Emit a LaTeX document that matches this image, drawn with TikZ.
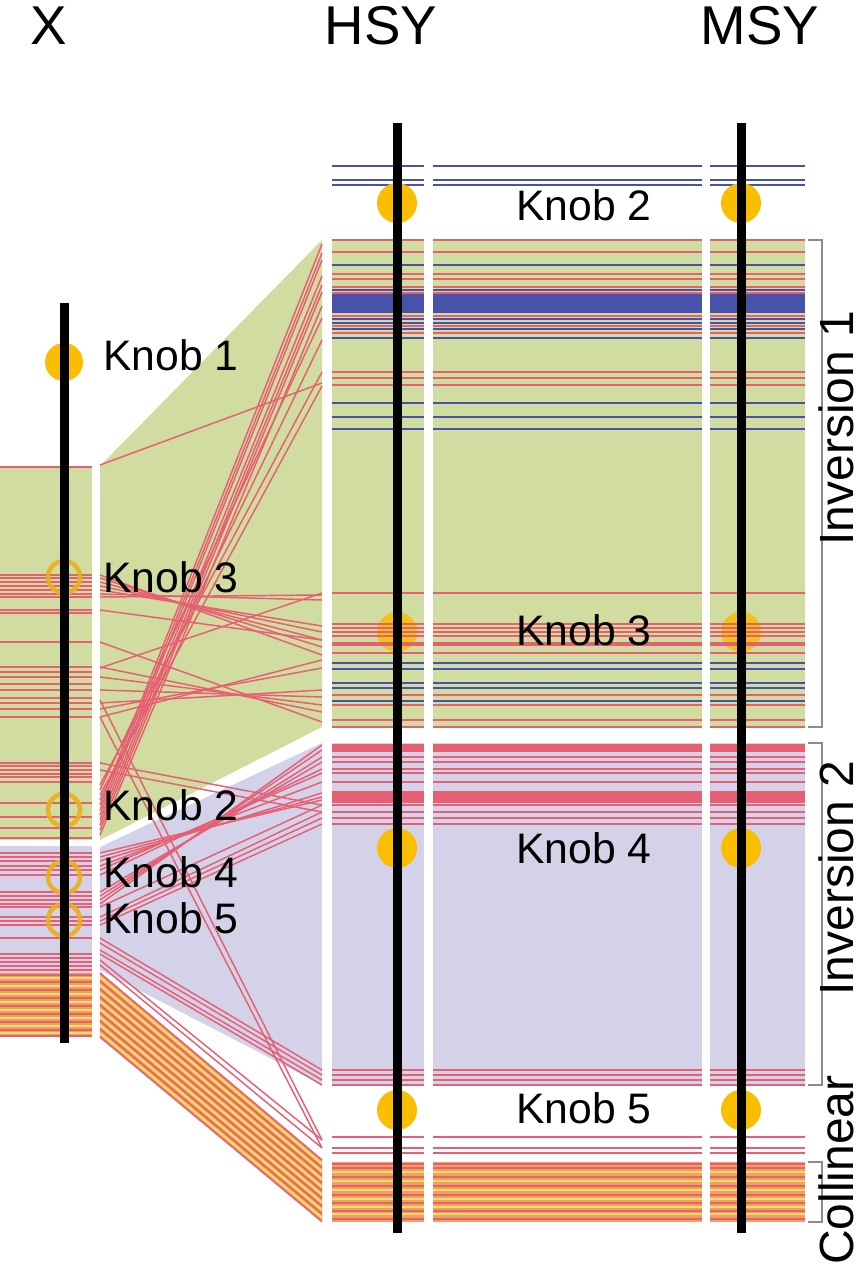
\documentclass[tikz,border=0pt]{standalone}
\usepackage{fontspec}
\setmainfont{Liberation Sans}
\definecolor{grn}{RGB}{208,220,160}
\definecolor{lav}{RGB}{212,210,232}
\definecolor{rl}{RGB}{230,95,115}
\definecolor{bl}{RGB}{72,82,170}
\definecolor{org}{RGB}{240,160,95}
\definecolor{ylw}{RGB}{242,224,100}
\definecolor{gold}{RGB}{250,190,0}
\definecolor{ringc}{RGB}{235,175,25}
\definecolor{brk}{RGB}{140,140,140}
\newcommand{\rowstripe}[3]{\foreach \xa/\xb in {332/424,433/702,710/805}{\draw[#2, line width=#3] (\xa,#1) -- (\xb,#1);}}
\newcommand{\rowfill}[3]{\foreach \xa/\xb in {332/424,433/702,710/805}{\fill[#1] (\xa,#2) rectangle (\xb,#3);}}
\newcommand{\xstripe}[3]{\draw[#2, line width=#3] (0,#1) -- (92,#1);}
\tikzset{
  linkline/.style={draw=rl, line width=1.1pt},
  knobfill/.style={fill=gold, draw=none},
  knobring/.style={draw=ringc, line width=3.4pt, fill=none, opacity=0.9},
  chrom/.style={line width=6.75pt, draw=black},
  lbl/.style={font=\fontsize{32}{32}\selectfont, anchor=west, inner sep=0pt},
  ttl/.style={font=\fontsize{41}{41}\selectfont, inner sep=0pt, anchor=base},
  vlbl/.style={font=\fontsize{36}{36}\selectfont, rotate=90, inner sep=0pt, anchor=base},
  bracket/.style={draw=brk, line width=1.5pt},
}
\begin{document}
\begin{tikzpicture}[x=0.75pt,y=-0.75pt]
\useasboundingbox (0,0) rectangle (861,1280);

% ---- link regions between X and HSY
\fill[grn] (100,466) -- (322,240) -- (322,727) -- (100,840) -- cycle;
\fill[lav] (100,847) -- (322,743) -- (322,1085) -- (100,970) -- cycle;
\fill[org] (100,973) -- (322,1160) -- (322,1222) -- (100,1037) -- cycle;
\foreach \i in {0,...,16}{
  \pgfmathsetmacro{\ly}{973+\i*4}
  \pgfmathsetmacro{\ry}{1160+\i*3.85}
  \pgfmathtruncatemacro{\parity}{mod(\i,2)}
  \ifnum\parity=0 \draw[rl, line width=1.2pt] (100,\ly) -- (322,\ry);
  \else \draw[ylw, line width=1.5pt] (100,\ly) -- (322,\ry); \fi
}
\foreach \l/\r in {465/383, 815/260, 805/244, 810/253, 820/276, 825/285, 830/292, 835/306, 790/318, 800/340, 785/372, 795/386,
  575/655, 578/647, 582/640, 586/632, 590/626, 594/600, 597/595, 668/593, 610/640,
  642/722, 667/712, 677/705, 690/697, 703/690, 709/668, 717/660,
  700/1140, 717/1148, 763/805, 770/812,
  853/800, 857/797, 861/793, 866/782, 870/773, 875/769, 892/762, 896/757, 900/750, 904/745,
  907/805, 917/812, 921/818, 925/824, 938/1070, 943/1075, 950/1080, 954/1085, 960/1140, 965/1148}
  {\draw[linkline] (100,\l) -- (322,\r);}

% ---- X column
\fill[grn] (0,466) rectangle (92,840);
\fill[lav] (0,846) rectangle (92,973);
\fill[org] (0,973) rectangle (92,1037);
\foreach \y in {467,575,578,582,586,590,594,597,610,613,642,667,672,677,684,690,698,703,709,717,763,766,770,774,777,782,803,817,828,838}
  {\xstripe{\y}{rl}{1.3pt}}
\foreach \y in {853,857,861,866,870,875,892,896,900,904,907,917,921,925,938,954,958,962,966,970}
  {\xstripe{\y}{rl}{1.4pt}}
\foreach \y in {978,986,994,1002,1010,1018,1026,1033}
  {\xstripe{\y}{ylw}{2pt}}
\foreach \y in {975,982,990,998,1006,1014,1022,1030,1036}
  {\xstripe{\y}{rl}{1.2pt}}

% ---- HSY / middle / MSY blocks
\rowfill{grn}{240}{727}
\rowfill{lav}{743}{1085}
\rowfill{org}{1162}{1222}
\fill[gold, opacity=0.85] (397,632) circle (20);
\fill[gold, opacity=0.85] (741,632) circle (20);
\foreach \y in {166,180,185} {\rowstripe{\y}{bl}{1.6pt}}
\foreach \y in {240,252,274,279,287,293,316,326,333,372,378,385,593,624,628,632,636,653,695,705,720,727}
  {\rowstripe{\y}{rl}{1.6pt}}
\rowstripe{644}{rl}{3pt}
\foreach \y in {265,290,319,323,329,338,403,417,429,663,669,683,688,701}
  {\rowstripe{\y}{bl}{1.9pt}}
\rowfill{bl}{294}{313}
\foreach \y in {757,762,769,773,782,805,812,818,824,1070,1075,1080,1085,1137,1148,1153}
  {\rowstripe{\y}{rl}{1.6pt}}
\foreach \y in {746,750,793,797,801}
  {\rowstripe{\y}{rl}{2.8pt}}
\foreach \y in {1172,1181,1190,1199,1207,1214}
  {\rowstripe{\y}{ylw}{2.2pt}}
\foreach \y in {1164,1168,1177,1186,1195,1203,1211,1219}
  {\rowstripe{\y}{rl}{1.5pt}}

% ---- knobs
\fill[knobfill] (64,362) circle (19);
\foreach \y in {203,848,1110}{
  \fill[knobfill] (397,\y) circle (20);
  \fill[knobfill] (741,\y) circle (20);
}
\draw[knobring] (64,577) circle (16);
\draw[knobring] (64,810) circle (16);
\draw[knobring] (64,877) circle (16);
\draw[knobring] (64,920) circle (16);

% ---- chromosome axes
\coordinate (xtop) at (64,303);  \coordinate (xbot) at (64,1043);
\coordinate (htop) at (397,123); \coordinate (hbot) at (397,1233);
\coordinate (mtop) at (741,123); \coordinate (mbot) at (741,1233);
\draw[chrom] (xtop) -- (xbot);
\draw[chrom] (htop) -- (hbot);
\draw[chrom] (mtop) -- (mbot);

% ---- brackets
\draw[bracket] (808,240) -- (822,240) -- (822,727) -- (808,727);
\draw[bracket] (808,743) -- (822,743) -- (822,1085) -- (808,1085);
\draw[bracket] (808,1162) -- (822,1162) -- (822,1222) -- (808,1222);

% ---- labels
\node[ttl] (tx) at (49,45) {X};
\node[ttl] (th) at (381,45) {HSY};
\node[ttl] (tm) at (760,45) {MSY};

\node[lbl] (xk1) at (103,355) {Knob 1};
\node[lbl] (xk3) at (103,577) {Knob 3};
\node[lbl] (xk2) at (103,805) {Knob 2};
\node[lbl] (xk4) at (103,872) {Knob 4};
\node[lbl] (xk5) at (103,918) {Knob 5};

\node[lbl] (mk2) at (516,205) {Knob 2};
\node[lbl] (mk3) at (516,630) {Knob 3};
\node[lbl] (mk4) at (516,848) {Knob 4};
\node[lbl] (mk5) at (516,1108) {Knob 5};

\node[vlbl] (inv1) at (853,428) {Inversion 1};
\node[vlbl] (inv2) at (853,878) {Inversion 2};
\node[vlbl] (coll) at (853,1170) {Collinear};
\end{tikzpicture}
\end{document}
